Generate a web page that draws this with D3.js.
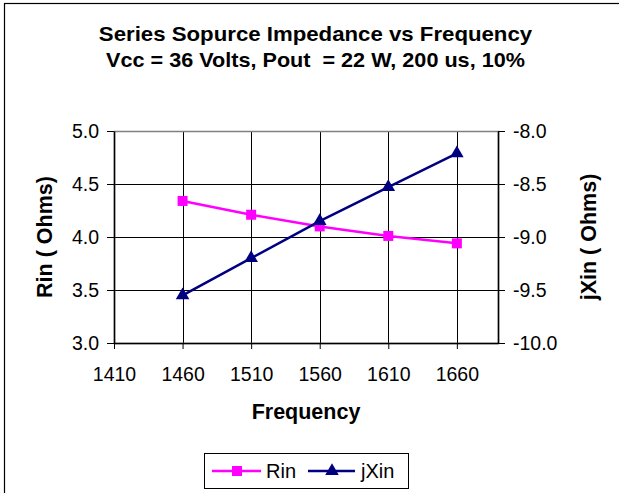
<!DOCTYPE html>
<html>
<head>
<meta charset="utf-8">
<script src="https://cdnjs.cloudflare.com/ajax/libs/d3/7.8.5/d3.min.js"></script>
<style>
body { margin: 0; background: #fff; }
text { font-family: "Liberation Sans", Arial, sans-serif; fill: #000; }
</style>
</head>
<body>
<div id="chart"></div>
<script>
// data
var frequency = [1460, 1510, 1560, 1610, 1660];
var rin = [4.34, 4.21, 4.10, 4.01, 3.94];
var jxin = [-9.55, -9.20, -8.85, -8.53, -8.21];
var xTicks = [1410, 1460, 1510, 1560, 1610, 1660];
var leftTicks = [3.0, 3.5, 4.0, 4.5, 5.0];
var rightTicks = [-10.0, -9.5, -9.0, -8.5, -8.0];

var svgWidth = 619;
var svgHeight = 493;

var margin = { top: 131, right: 121, bottom: 150, left: 114 };
var width = svgWidth - margin.left - margin.right;
var height = svgHeight - margin.top - margin.bottom;

var svg = d3.select("#chart")
    .append("svg")
    .attr("width", svgWidth)
    .attr("height", svgHeight);

// outer chart border (right and bottom edges fall outside the picture)
svg.append("rect")
    .attr("x", 4.5)
    .attr("y", 3.5)
    .attr("width", 700)
    .attr("height", 600)
    .attr("fill", "none")
    .attr("stroke", "#000")
    .attr("stroke-width", 1.2);

// titles (the original text is rendered a bit wide, hence the scaleX)
svg.append("text")
    .attr("transform", "translate(315.5,41) scale(1.14,1)")
    .attr("text-anchor", "middle")
    .attr("font-size", "19.5px")
    .attr("font-weight", "bold")
    .text("Series Sopurce Impedance vs Frequency");

svg.append("text")
    .attr("transform", "translate(315.5,67) scale(1.12,1)")
    .attr("text-anchor", "middle")
    .attr("font-size", "19.3px")
    .attr("font-weight", "bold")
    .attr("xml:space", "preserve")
    .style("white-space", "pre")
    .text("Vcc = 36 Volts, Pout  = 22 W, 200 us, 10%");

var chartGroup = svg.append("g")
    .attr("transform", `translate(${margin.left},${margin.top})`);

// scales
var xScale = d3.scaleLinear().domain([1410, 1690]).range([0, width]);
var yLeft = d3.scaleLinear().domain([3.0, 5.0]).range([height, 0]);
var yRight = d3.scaleLinear().domain([-10.0, -8.0]).range([height, 0]);

// gridlines
chartGroup.append("g")
    .selectAll("line")
    .data(leftTicks)
    .enter()
    .append("line")
    .attr("x1", 0)
    .attr("x2", width)
    .attr("y1", d => Math.round(yLeft(d)) + 0.5)
    .attr("y2", d => Math.round(yLeft(d)) + 0.5)
    .attr("stroke", "#000")
    .attr("stroke-width", 1);

chartGroup.append("g")
    .selectAll("line")
    .data(xTicks.slice(1))
    .enter()
    .append("line")
    .attr("x1", d => Math.round(xScale(d)) + 0.5)
    .attr("x2", d => Math.round(xScale(d)) + 0.5)
    .attr("y1", 0)
    .attr("y2", height)
    .attr("stroke", "#000")
    .attr("stroke-width", 1);

// plot area frame
chartGroup.append("rect")
    .attr("x", 0.5)
    .attr("y", 0.5)
    .attr("width", width)
    .attr("height", height)
    .attr("fill", "none")
    .attr("stroke", "#808080")
    .attr("stroke-width", 1.5);

// axes
var bottomAxis = d3.axisBottom(xScale).tickValues(xTicks).tickFormat(d3.format("d"))
    .tickSizeInner(6).tickSizeOuter(0).tickPadding(18);
var leftAxis = d3.axisLeft(yLeft).tickValues(leftTicks).tickFormat(d3.format(".1f"))
    .tickSizeInner(7).tickSizeOuter(0).tickPadding(8);
var rightAxis = d3.axisRight(yRight).tickValues(rightTicks).tickFormat(d3.format(".1f"))
    .tickSizeInner(7).tickSizeOuter(0).tickPadding(8);

var xAxis = chartGroup.append("g")
    .attr("transform", `translate(0,${height})`)
    .call(bottomAxis);

var lAxis = chartGroup.append("g")
    .call(leftAxis);

var rAxis = chartGroup.append("g")
    .attr("transform", `translate(${width},0)`)
    .call(rightAxis);

[xAxis, lAxis, rAxis].forEach(function(a) {
    a.selectAll("text")
        .attr("font-size", "19.5px")
        .attr("font-family", "Liberation Sans, Arial, sans-serif")
        .attr("fill", "#000");
    a.selectAll("line").attr("stroke", "#000");
    a.select(".domain").attr("stroke", "#000").attr("stroke-width", 1.5);
});

// minus sign as a plain hyphen, like the original
rAxis.selectAll("text").text(d => d3.format(".1f")(d).replace("\u2212", "-"));

// axis titles
chartGroup.append("text")
    .attr("x", width / 2)
    .attr("y", height + 76)
    .attr("text-anchor", "middle")
    .attr("font-size", "21.5px")
    .attr("font-weight", "bold")
    .text("Frequency");

chartGroup.append("text")
    .attr("transform", `translate(${-62},${height / 2}) rotate(-90)`)
    .attr("text-anchor", "middle")
    .attr("font-size", "21.5px")
    .attr("font-weight", "bold")
    .text("Rin ( Ohms)");

chartGroup.append("text")
    .attr("transform", `translate(${width + 98},${height / 2}) rotate(-90)`)
    .attr("text-anchor", "middle")
    .attr("font-size", "21.5px")
    .attr("font-weight", "bold")
    .text("jXin ( Ohms)");

// series lines
var rinLine = d3.line()
    .x((d, i) => xScale(frequency[i]))
    .y(d => yLeft(d));

var jxinLine = d3.line()
    .x((d, i) => xScale(frequency[i]))
    .y(d => yRight(d));

chartGroup.append("path")
    .datum(rin)
    .attr("d", rinLine)
    .attr("fill", "none")
    .attr("stroke", "#FF00FF")
    .attr("stroke-width", 2.5);

chartGroup.append("path")
    .datum(jxin)
    .attr("d", jxinLine)
    .attr("fill", "none")
    .attr("stroke", "#000080")
    .attr("stroke-width", 2.5);

// markers
var square = d3.symbol().type(d3.symbolSquare).size(100);
var triangle = d3.symbol().type(d3.symbolTriangle).size(80);

chartGroup.selectAll(".rin-marker")
    .data(rin)
    .enter()
    .append("path")
    .attr("class", "rin-marker")
    .attr("d", square)
    .attr("transform", (d, i) => `translate(${xScale(frequency[i])},${yLeft(d)})`)
    .attr("fill", "#FF00FF");

chartGroup.selectAll(".jxin-marker")
    .data(jxin)
    .enter()
    .append("path")
    .attr("class", "jxin-marker")
    .attr("d", triangle)
    .attr("transform", (d, i) => `translate(${xScale(frequency[i])},${yRight(d)})`)
    .attr("fill", "#000080");

// legend
var legend = svg.append("g")
    .attr("transform", "translate(204,453)");

legend.append("rect")
    .attr("x", 0.5)
    .attr("y", 0.5)
    .attr("width", 204)
    .attr("height", 35)
    .attr("fill", "#fff")
    .attr("stroke", "#000")
    .attr("stroke-width", 1);

legend.append("line")
    .attr("x1", 8).attr("x2", 57)
    .attr("y1", 18).attr("y2", 18)
    .attr("stroke", "#FF00FF")
    .attr("stroke-width", 2.5);
legend.append("path")
    .attr("d", square)
    .attr("transform", "translate(33,18)")
    .attr("fill", "#FF00FF");
legend.append("text")
    .attr("x", 62)
    .attr("y", 25)
    .attr("font-size", "20px")
    .text("Rin");

legend.append("line")
    .attr("x1", 104).attr("x2", 151)
    .attr("y1", 18).attr("y2", 18)
    .attr("stroke", "#000080")
    .attr("stroke-width", 2.5);
legend.append("path")
    .attr("d", triangle)
    .attr("transform", "translate(128,18)")
    .attr("fill", "#000080");
legend.append("text")
    .attr("x", 157)
    .attr("y", 25)
    .attr("font-size", "20px")
    .text("jXin");
</script>
</body>
</html>
